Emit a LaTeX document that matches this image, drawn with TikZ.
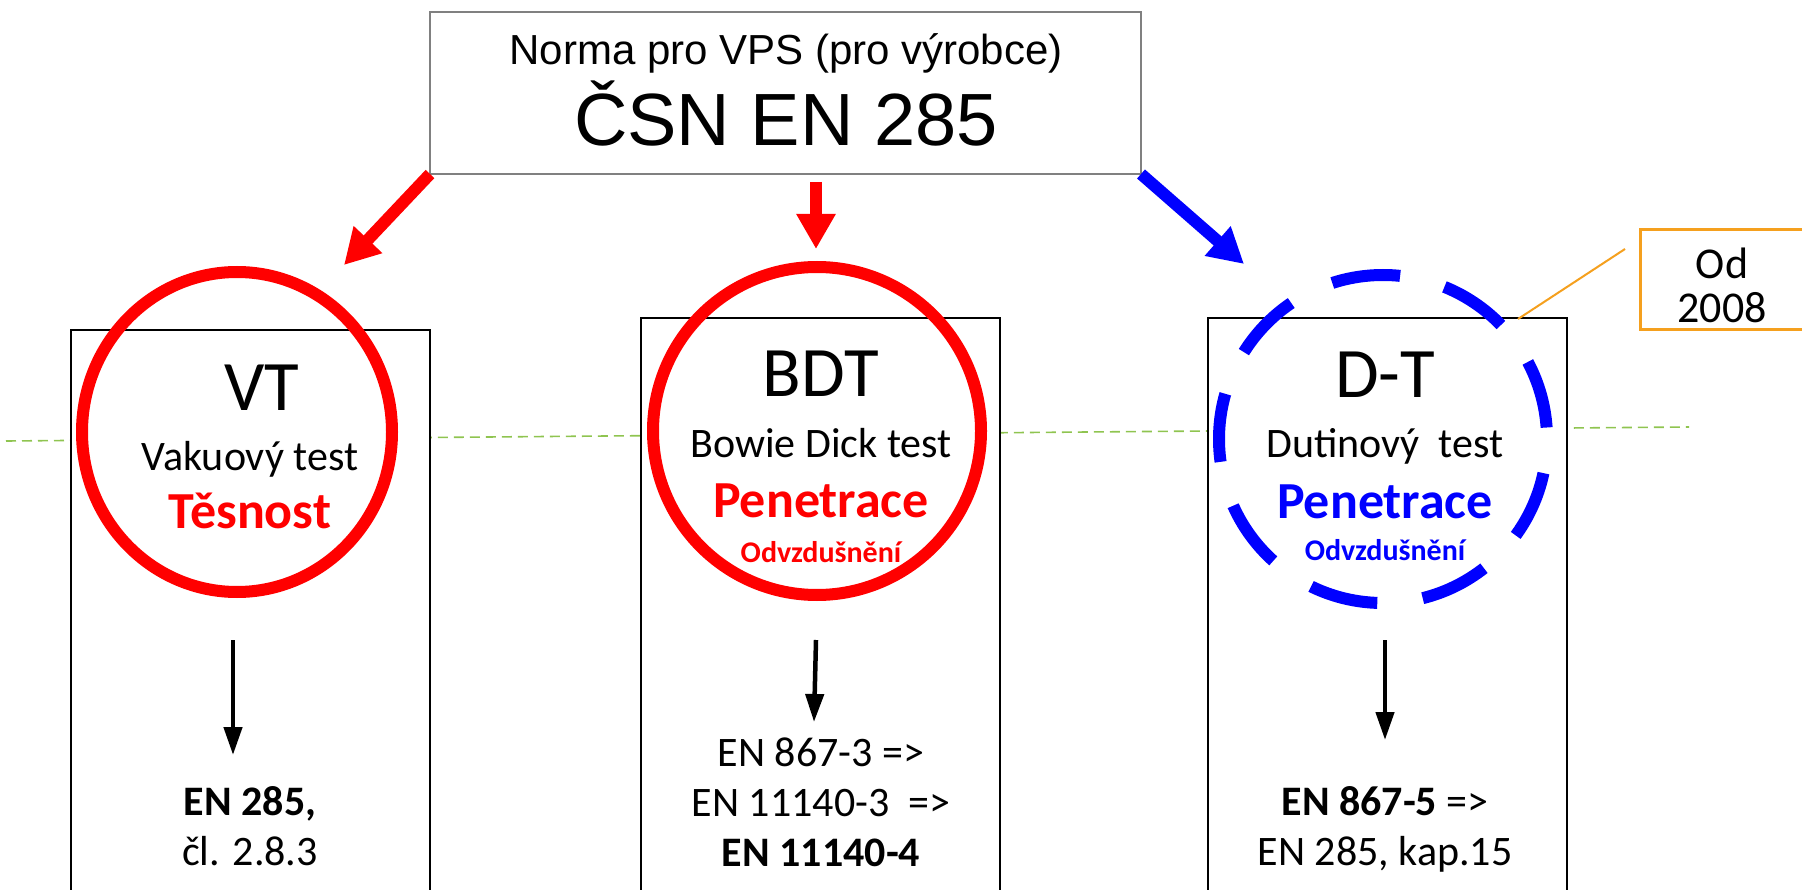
\documentclass[tikz,border=0pt]{standalone}
\usepackage{fontspec}
\setmainfont{Carlito}
\newfontfamily\arialf{Liberation Sans}
\usetikzlibrary{arrows.meta,shapes.geometric}
\definecolor{orng}{HTML}{F5A01E}
\definecolor{grn}{HTML}{8FC450}
\definecolor{gry}{HTML}{808080}
\begin{document}
\begin{tikzpicture}[x=1pt,y=-1pt,
  every node/.style={inner sep=0pt, outer sep=0pt},
  frame/.style={draw=black, line width=2.2pt, fill=white, anchor=north west, minimum width=359pt, minimum height=600pt},
  ring/.style={circle, line width=12pt, minimum size=328pt},
  big/.style={anchor=base, font=\fontsize{71}{80}\selectfont},
  mid/.style={anchor=base, font=\fontsize{42}{50}\selectfont},
  bmid/.style={anchor=base, font=\fontsize{42}{50}\selectfont\bfseries},
  key/.style={anchor=base, font=\fontsize{52}{60}\selectfont\bfseries},
  sub/.style={anchor=base, font=\fontsize{30}{36}\selectfont\bfseries},
  fatarrow/.style={line width=12pt, -{Triangle[width=37pt,length=35pt]}},
  thinarrow/.style={line width=4.5pt, -{Triangle[width=18pt,length=28pt]}}
]
\useasboundingbox (0,0) rectangle (1802,890);
% green dashed line
\coordinate (g1) at (6,441);
\coordinate (g2) at (1689,427);
\draw[grn, line width=1.6pt, dash pattern=on 10pt off 6pt] (g1) -- (g2);
% boxes
\node[frame] (b1) at (71,330) {};
\node[frame] (b2) at (641,318) {};
\node[frame] (b3) at (1208,318) {};
% top box
\node[draw=gry, line width=1.3pt, fill=white, anchor=north west, minimum width=711pt, minimum height=162pt] (top) at (430,12) {};
\node[anchor=base, font=\arialf\fontsize{42}{50}\selectfont] (t1) at (786,65) {Norma pro VPS (pro výrobce)};
\node[anchor=base, font=\arialf\fontsize{74}{80}\selectfont] (t2) at (786,146) {ČSN EN 285};
% circles
\node[ellipse, line width=12pt, draw=red, minimum width=310pt, minimum height=320pt] (c1) at (237,432) {};
\node[ring, draw=red] (c2) at (817,431) {};
\node[ring, draw=blue, dash pattern=on 68.7pt off 45.8pt, dash phase=103pt] (c3) at (1383,439) {};
% column 1
\node[big] (vt) at (262,410) {VT};
\node[mid] (vt2) at (250,470) {Vakuový test};
\node[key, text=red] (vt3) at (250,528) {Těsnost};
% column 2
\node[big] (bdt) at (821,397) {BDT};
\node[mid] (bdt2) at (821,457) {Bowie Dick test};
\node[key, text=red] (bdt3) at (821,517) {Penetrace};
\node[sub, text=red] (bdt4) at (821,562) {Odvzdušnění};
% column 3
\node[big] (dt) at (1385,398) {D-T};
\node[mid] (dt2) at (1385,457) {Dutinový\ \ test};
\node[key, text=blue] (dt3) at (1385,518) {Penetrace};
\node[sub, text=blue] (dt4) at (1385,560) {Odvzdušnění};
% bottom texts
\node[bmid] (e1a) at (250,815) {EN 285,};
\node[mid] (e1b) at (250,865) {čl. 2.8.3};
\node[mid] (e2a) at (821,766) {EN 867-3 =>};
\node[mid] (e2b) at (821,816) {EN 11140-3\ \ =>};
\node[bmid] (e2c) at (821,866) {EN 11140-4};
\node[mid] (e3a) at (1385,815) {{\bfseries EN 867-5} =>};
\node[mid] (e3b) at (1385,865) {EN 285, kap.15};
% black arrows
\coordinate (k1s) at (233,640); \coordinate (k1e) at (233,755);
\coordinate (k2s) at (816,640); \coordinate (k2e) at (814,722);
\coordinate (k3s) at (1385,640); \coordinate (k3e) at (1385,740);
\draw[thinarrow] (k1s) -- (k1e);
\draw[thinarrow] (k2s) -- (k2e);
\draw[thinarrow] (k3s) -- (k3e);
% fat arrows
\coordinate (a1e) at (344,265);
\coordinate (a2s) at (816,182); \coordinate (a2e) at (816,249);
\coordinate (a3e) at (1244,264);
\draw[fatarrow, red] (top.south west) -- (a1e);
\draw[fatarrow, red] (a2s) -- (a2e);
\draw[fatarrow, blue] (top.south east) -- (a3e);
% callout
\node[draw=orng, line width=3pt, fill=white, anchor=north west, minimum width=182pt, minimum height=100pt] (od) at (1640,230) {};
\node[align=center, font=\fontsize{44}{44}\selectfont] (odt) at (1722,285) {Od\\2008};
\coordinate (l1) at (1518,319);
\coordinate (l2) at (1625,249);
\draw[orng, line width=2pt] (l1) -- (l2);
\end{tikzpicture}
\end{document}
